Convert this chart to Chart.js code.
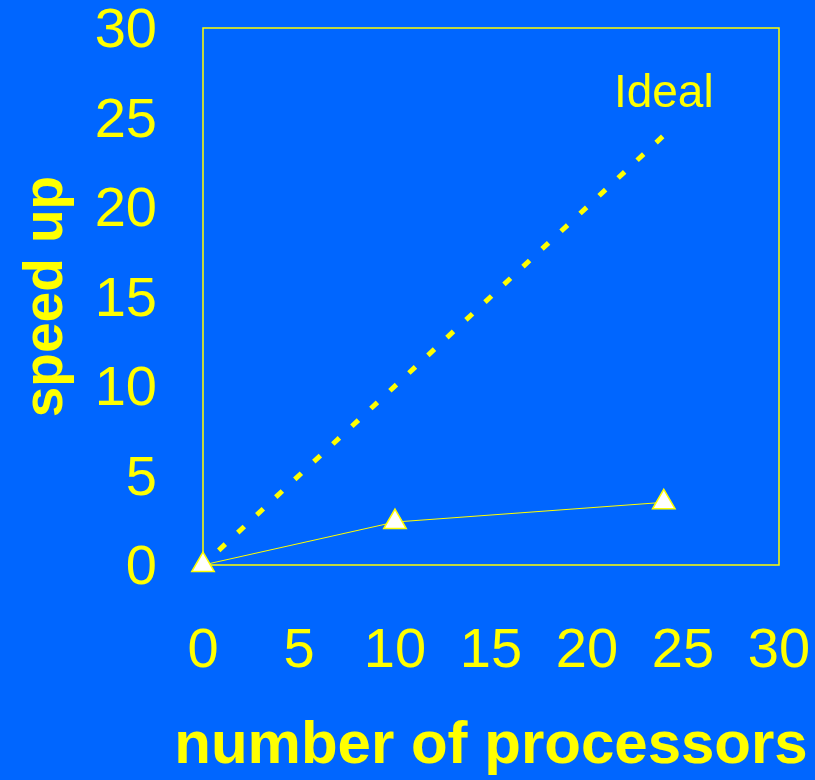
<!DOCTYPE html>
<html>
<head>
<meta charset="utf-8">
<title>speed up vs number of processors</title>
<script src="https://cdn.jsdelivr.net/npm/chart.js@4/dist/chart.umd.min.js"></script>
<style>
  html, body { margin: 0; padding: 0; background: #0066ff; }
  canvas { display: block; }
</style>
</head>
<body>
<canvas id="c" width="815" height="780"></canvas>
<script>
// Measured speed up at each processor count
const processors = [0, 10, 24];
const speedUp = [0, 2.4, 3.5];

// Ideal (linear) speed up
const idealProcessors = [0, 24];
const idealSpeedUp = [0, 24];

// Axis ticks
const xTicks = [0, 5, 10, 15, 20, 25, 30];
const yTicks = [0, 5, 10, 15, 20, 25, 30];

const idealLabel = 'Ideal';
const xTitle = 'number of processors';
const yTitle = 'speed up';

const YELLOW = '#ffff00';
const BLUE = '#0066ff';
const FONT = '"Liberation Sans", Arial, Helvetica, sans-serif';

const toPoints = (xs, ys) => xs.map((x, i) => ({ x: x, y: ys[i] }));

// Paint background and the yellow frame round the plot area
const framePlugin = {
  id: 'frame',
  beforeDraw(chart) {
    const ctx = chart.ctx;
    ctx.save();
    ctx.fillStyle = BLUE;
    ctx.fillRect(0, 0, chart.width, chart.height);
    ctx.restore();
  },
  beforeDatasetsDraw(chart) {
    const { ctx, chartArea: a } = chart;
    ctx.save();
    ctx.strokeStyle = YELLOW;
    ctx.lineWidth = 1.5;
    ctx.strokeRect(a.left, a.top, a.right - a.left, a.bottom - a.top);
    ctx.restore();
  }
};

// Label above the end of the ideal line, and the x-axis title which
// is wider than the plot area (so it is drawn here without a width cap)
const textPlugin = {
  id: 'texts',
  afterDatasetsDraw(chart) {
    const { ctx, scales, chartArea: a } = chart;
    const n = idealProcessors.length - 1;
    const px = scales.x.getPixelForValue(idealProcessors[n]);
    const py = scales.y.getPixelForValue(idealSpeedUp[n] + 2.3);
    ctx.save();
    ctx.fillStyle = YELLOW;
    ctx.textAlign = 'center';
    ctx.textBaseline = 'middle';
    ctx.font = '46px ' + FONT;
    ctx.fillText(idealLabel, px, py);
    ctx.font = 'bold 60px ' + FONT;
    ctx.fillText(xTitle, (a.left + a.right) / 2, scales.x.bottom - 34);
    ctx.restore();
  }
};

new Chart(document.getElementById('c'), {
  type: 'line',
  data: {
    datasets: [
      {
        label: 'measured',
        data: toPoints(processors, speedUp),
        borderColor: YELLOW,
        borderWidth: 1,
        pointStyle: 'triangle',
        pointRadius: 13,
        pointBackgroundColor: '#ffffff',
        pointBorderColor: YELLOW,
        pointBorderWidth: 1.5,
        tension: 0,
        clip: false
      },
      {
        label: idealLabel,
        data: toPoints(idealProcessors, idealSpeedUp),
        borderColor: YELLOW,
        borderWidth: 5,
        borderDash: [9, 17],
        borderDashOffset: 4.5,
        borderCapStyle: 'butt',
        pointRadius: 0,
        tension: 0,
        clip: false
      }
    ]
  },
  options: {
    responsive: false,
    animation: false,
    layout: { padding: { top: 28, right: 36, bottom: 0, left: 0 } },
    plugins: {
      legend: { display: false },
      tooltip: { enabled: false }
    },
    scales: {
      x: {
        type: 'linear',
        min: 0,
        max: 30,
        afterBuildTicks(scale) { scale.ticks = xTicks.map(v => ({ value: v })); },
        afterFit(scale) {
          scale.height = 215;
          scale.paddingLeft = 0; scale.paddingRight = 0;
        },
        grid: { display: false, drawTicks: false },
        border: { display: false },
        ticks: {
          color: YELLOW,
          padding: 59,
          maxRotation: 0,
          autoSkip: false,
          font: { family: FONT, size: 56, lineHeight: 1 }
        },
        title: { display: false }
      },
      y: {
        type: 'linear',
        min: 0,
        max: 30,
        afterBuildTicks(scale) { scale.ticks = yTicks.map(v => ({ value: v })); },
        afterFit(scale) {
          scale.width = 203;
          scale.paddingTop = 0; scale.paddingBottom = 0;
        },
        grid: { display: false, drawTicks: false },
        border: { display: false },
        ticks: {
          color: YELLOW,
          padding: 46,
          labelOffset: 4,
          autoSkip: false,
          font: { family: FONT, size: 56, lineHeight: 1 }
        },
        title: {
          display: true,
          text: yTitle,
          color: YELLOW,
          padding: { top: 19, bottom: 0 },
          font: { family: FONT, size: 55, weight: 'bold', lineHeight: 1 }
        }
      }
    }
  },
  plugins: [framePlugin, textPlugin]
});
</script>
</body>
</html>
